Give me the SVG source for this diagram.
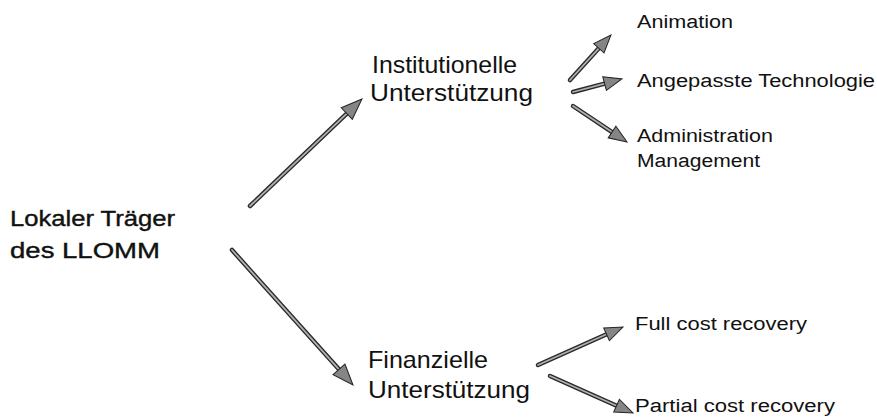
<svg xmlns="http://www.w3.org/2000/svg" width="877" height="420" viewBox="0 0 877 420">
<style>
text{font-family:"Liberation Sans",Arial,Helvetica,sans-serif;fill:#111}
.l{font-size:22px;stroke:#111;stroke-width:0.4}
.m{font-size:24px}
.s{font-size:18px}
.so{stroke:#2a2a2a;stroke-width:4.5;stroke-linecap:round;fill:none}
.si{stroke:#b0b0b0;stroke-width:1.8;stroke-linecap:round;fill:none}
.big{marker-end:url(#hb)}
.sm{marker-end:url(#hs)}
</style>
<defs>
<marker id="hb" markerUnits="userSpaceOnUse" markerWidth="24" markerHeight="20" viewBox="-1 -10 24 20" refX="5" refY="0" orient="auto">
<path d="M0,-8 L21,0 L0,8 z" fill="#858585" stroke="#222" stroke-width="1"/>
</marker>
<marker id="hs" markerUnits="userSpaceOnUse" markerWidth="20" markerHeight="16" viewBox="-1 -8 20 16" refX="5" refY="0" orient="auto">
<path d="M0,-7 L18,0 L0,7 z" fill="#858585" stroke="#222" stroke-width="1"/>
</marker>
</defs>
<g id="connectors">
<line class="so" x1="250" y1="206" x2="350.4" y2="110.1"/><line class="si big" x1="250" y1="206" x2="350.4" y2="110.1"/>
<line class="so" x1="232" y1="250" x2="342.3" y2="373.1"/><line class="si big" x1="232" y1="250" x2="342.3" y2="373.1"/>
<line class="so" x1="570" y1="80" x2="602.2" y2="44.6"/><line class="si sm" x1="570" y1="80" x2="602.2" y2="44.6"/>
<line class="so" x1="573" y1="92" x2="609.4" y2="82.3"/><line class="si sm" x1="573" y1="92" x2="609.4" y2="82.3"/>
<line class="so" x1="573" y1="106" x2="616.2" y2="134.8"/><line class="si sm" x1="573" y1="106" x2="616.2" y2="134.8"/>
<line class="so" x1="538" y1="365" x2="611.1" y2="332.3"/><line class="si sm" x1="538" y1="365" x2="611.1" y2="332.3"/>
<line class="so" x1="550" y1="376" x2="621.1" y2="407.7"/><line class="si sm" x1="550" y1="376" x2="621.1" y2="407.7"/>
</g>
<g id="lokaler-traeger">
<text class="l" x="10" y="226" textLength="165" lengthAdjust="spacingAndGlyphs">Lokaler Träger</text>
<text class="l" x="10" y="258" textLength="150" lengthAdjust="spacingAndGlyphs">des LLOMM</text>
</g>
<g id="institutionelle">
<text class="m" x="372" y="73" textLength="145" lengthAdjust="spacingAndGlyphs">Institutionelle</text>
<text class="m" x="370" y="101" textLength="163" lengthAdjust="spacingAndGlyphs">Unterstützung</text>
</g>
<g id="finanzielle">
<text class="m" x="368" y="368" textLength="120" lengthAdjust="spacingAndGlyphs">Finanzielle</text>
<text class="m" x="368" y="398" textLength="162" lengthAdjust="spacingAndGlyphs">Unterstützung</text>
</g>
<g id="animation"><text class="s" x="637" y="28" textLength="96" lengthAdjust="spacingAndGlyphs">Animation</text></g>
<g id="technologie"><text class="s" x="637" y="87" textLength="238" lengthAdjust="spacingAndGlyphs">Angepasste Technologie</text></g>
<g id="administration">
<text class="s" x="637" y="142" textLength="136" lengthAdjust="spacingAndGlyphs">Administration</text>
<text class="s" x="637" y="167" textLength="123" lengthAdjust="spacingAndGlyphs">Management</text>
</g>
<g id="full-cost"><text class="s" x="635" y="330" textLength="172" lengthAdjust="spacingAndGlyphs">Full cost recovery</text></g>
<g id="partial-cost"><text class="s" x="635" y="412" textLength="200" lengthAdjust="spacingAndGlyphs">Partial cost recovery</text></g>
</svg>
